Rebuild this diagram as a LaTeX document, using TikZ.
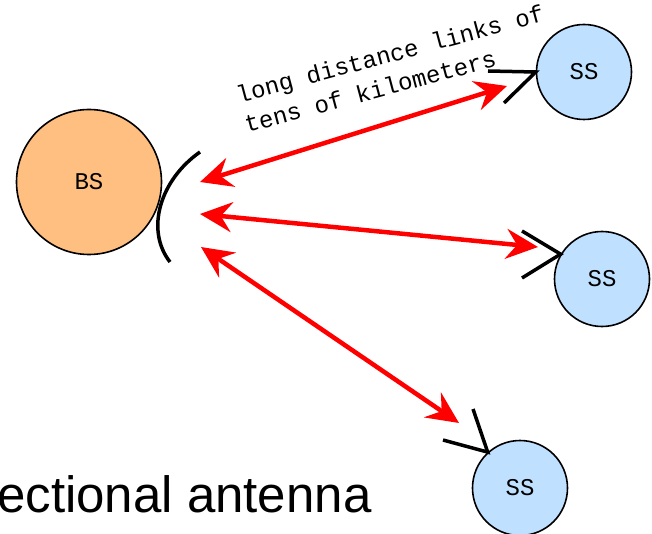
\documentclass[tikz,border=0pt]{standalone}
\usepackage{fontspec}
\setmainfont{Liberation Serif}
\setsansfont{Liberation Sans}
\setmonofont{Liberation Mono}
\usetikzlibrary{arrows.meta}
\definecolor{bsfill}{RGB}{255,191,128}
\definecolor{ssfill}{RGB}{191,224,255}
\begin{document}
\begin{tikzpicture}[x=1pt,y=-1pt,
  station/.style={circle,draw=black,line width=1.6pt,inner sep=0pt,
    font=\ttfamily\fontsize{24}{24}\selectfont},
  bsnode/.style={station,fill=bsfill,minimum size=145pt},
  ssnode/.style={station,fill=ssfill,minimum size=95pt},
  antenna/.style={draw=black,line width=3.5pt},
  link/.style={draw=red,line width=4.5pt,
    {Stealth[length=32pt,width=30pt,inset=11pt]}-{Stealth[length=32pt,width=30pt,inset=11pt]}},
  caption/.style={font=\ttfamily\fontsize{24}{31}\selectfont,align=left,inner sep=0pt}
]
\useasboundingbox (0,0) rectangle (652,534);

% stations
\node[bsnode] (bs) at (89,182) {BS};
\node[ssnode] (ss1) at (584,72) {SS};
\node[ssnode] (ss2) at (602,279) {SS};
\node[ssnode] (ss3) at (520,488) {SS};

% sector antenna of the base station
\coordinate (bsa1) at (200,152);
\coordinate (bsa2) at (170,262);
\draw[antenna] (bsa1) .. controls (160,180) and (145,230) .. (bsa2);

% directional antennas of the subscriber stations
\coordinate (s1a) at (488,71);
\coordinate (s1b) at (504,103);
\draw[antenna] (s1a) -- (ss1.west) -- (s1b);
\coordinate (s2a) at (522,231);
\coordinate (s2b) at (522,278);
\draw[antenna] (s2a) -- (ss2.149) -- (s2b);
\coordinate (s3a) at (473,409);
\coordinate (s3b) at (443,440);
\draw[antenna] (s3a) -- (ss3.132) -- (s3b);

% radio links
\coordinate (l1a) at (200,182);
\coordinate (l1b) at (507,86);
\coordinate (l2a) at (200,214);
\coordinate (l2b) at (538,247);
\coordinate (l3a) at (201,247);
\coordinate (l3b) at (459,423);
\draw[link] (l1a) -- (l1b);
\draw[link] (l2a) -- (l2b);
\draw[link] (l3a) -- (l3b);

% labels (anchored at the baseline of the last line)
\node[caption,anchor=base west,rotate=15] (lbl) at (247,133)
  {long distance links of\\tens of kilometers};
\node[font=\sffamily\fontsize{51}{51}\selectfont,anchor=base west,inner sep=0pt]
  (title) at (-3,512) {ectional antenna};
\end{tikzpicture}
\end{document}
